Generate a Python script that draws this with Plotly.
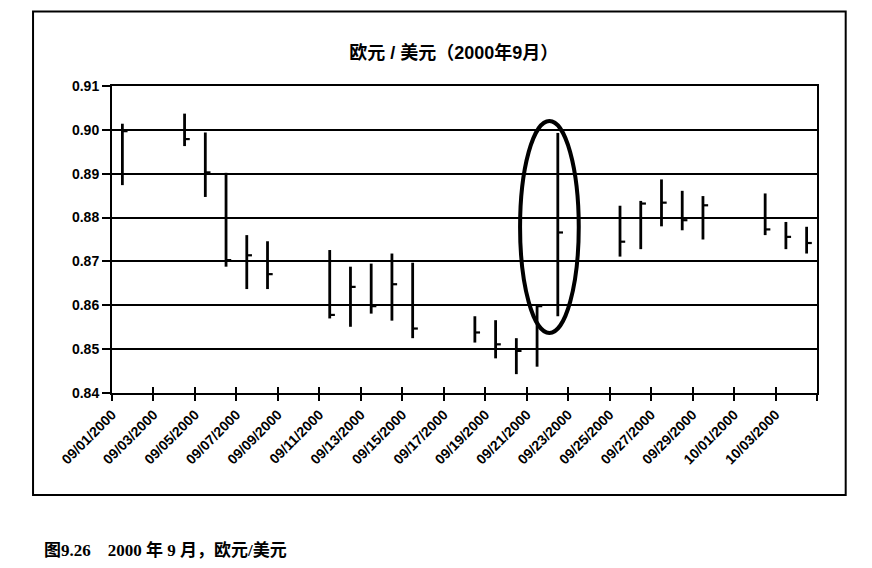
import plotly.graph_objects as go
import pandas as pd

# EUR/USD daily high / low / close, Sept 2000
dates = ['2000-09-01', '2000-09-04', '2000-09-05', '2000-09-06', '2000-09-07', '2000-09-08',
         '2000-09-11', '2000-09-12', '2000-09-13', '2000-09-14', '2000-09-15',
         '2000-09-18', '2000-09-19', '2000-09-20', '2000-09-21', '2000-09-22',
         '2000-09-25', '2000-09-26', '2000-09-27', '2000-09-28', '2000-09-29',
         '2000-10-02', '2000-10-03', '2000-10-04']
high = [0.9014, 0.9037, 0.8994, 0.8902, 0.8760, 0.8746,
        0.8726, 0.8688, 0.8695, 0.8718, 0.8697,
        0.8575, 0.8566, 0.8525, 0.8600, 0.8993,
        0.8827, 0.8838, 0.8887, 0.8861, 0.8849,
        0.8855, 0.8790, 0.8779]
low = [0.8874, 0.8963, 0.8847, 0.8688, 0.8637, 0.8637,
       0.8570, 0.8551, 0.8581, 0.8565, 0.8525,
       0.8515, 0.8479, 0.8443, 0.8460, 0.8575,
       0.8711, 0.8728, 0.8780, 0.8771, 0.8750,
       0.8760, 0.8728, 0.8718]
close = [0.8997, 0.8979, 0.8903, 0.8703, 0.8714, 0.8671,
         0.8578, 0.8642, 0.8598, 0.8648, 0.8547,
         0.8538, 0.8511, 0.8496, 0.8598, 0.8766,
         0.8745, 0.8832, 0.8834, 0.8794, 0.8828,
         0.8773, 0.8756, 0.8742]

tick_dates = pd.date_range('2000-09-01', '2000-10-05', freq='2D')
tick_text = [d.strftime('%m/%d/%Y') for d in tick_dates[:-1]] + ['']

y_ticks = [0.84, 0.85, 0.86, 0.87, 0.88, 0.89, 0.90, 0.91]

# bars sit in the middle of each day slot, close tick to the right
mid = pd.to_datetime(dates) + pd.Timedelta(hours=12)
tick_len = pd.Timedelta(hours=6)

bar_x, bar_y, cl_x, cl_y = [], [], [], []
for d, h, l, c in zip(mid, high, low, close):
    bar_x += [d, d, None]
    bar_y += [l, h, None]
    cl_x += [d, d + tick_len, None]
    cl_y += [c, c, None]

fig = go.Figure()
fig.add_trace(go.Scatter(x=bar_x, y=bar_y, mode='lines',
                         line=dict(color='black', width=2.8), hoverinfo='skip'))
fig.add_trace(go.Scatter(x=cl_x, y=cl_y, mode='lines',
                         line=dict(color='black', width=2.2), hoverinfo='skip'))

# dummy trace on the second x axis so the cross ticks show up
fig.add_trace(go.Scatter(x=[tick_dates[0]], y=[0.84], xaxis='x2', mode='markers',
                         marker=dict(opacity=0), hoverinfo='skip'))

axis_font = dict(family='Liberation Sans, Arial', size=14, color='black', weight='bold')

# the page body adds an 8px offset, so the figure is 8px smaller each way
fig.update_layout(
    width=864, height=560,
    paper_bgcolor='white', plot_bgcolor='white',
    showlegend=False,
    margin=dict(l=104, r=55, t=78, b=175),
    title=dict(text='欧元 / 美元（2000年9月）', x=0.516, xref='container', xanchor='center',
               y=1 - 45 / 560, yanchor='middle',
               font=dict(family='Liberation Sans, Noto Sans CJK SC', size=18, color='black',
                         weight='bold')),
    xaxis=dict(type='date', range=['2000-09-01', '2000-10-05'],
               tickmode='array', tickvals=tick_dates, ticktext=tick_text,
               tickangle=-45, tickfont=axis_font,
               ticks='outside', ticklen=6, tickwidth=1.5, tickcolor='black',
               showline=True, mirror=True, linecolor='black', linewidth=2,
               showgrid=False, zeroline=False),
    xaxis2=dict(type='date', range=['2000-09-01', '2000-10-05'], overlaying='x',
                matches='x', tickmode='array', tickvals=tick_dates, showticklabels=False,
                ticks='inside', ticklen=6, tickwidth=1.5, tickcolor='black',
                showline=False, showgrid=False, zeroline=False, side='bottom'),
    yaxis=dict(range=[0.84, 0.91], tickmode='array', tickvals=y_ticks,
               ticktext=['%.2f' % v for v in y_ticks], tickfont=axis_font,
               ticks='outside', ticklen=8, tickwidth=1.5, tickcolor='black',
               showline=True, mirror=True, linecolor='black', linewidth=2,
               showgrid=True, gridcolor='black', gridwidth=1.5, zeroline=False),
)

# outer chart frame
fig.add_shape(type='rect', xref='paper', yref='paper',
              x0=-0.112, x1=1.0407, y0=-0.332, y1=1.243,
              line=dict(color='black', width=2))

# ellipse around the 09/22 spike
fig.add_shape(type='circle', xref='x', yref='y',
              x0='2000-09-20 16:19', x1='2000-09-23 12:14', y0=0.8537, y1=0.9020,
              line=dict(color='black', width=4))

fig.add_annotation(text='图9.26　2000 年 9 月，欧元/美元', xref='paper', yref='paper',
                   x=-0.0997, y=-0.511, xanchor='left', yanchor='middle', showarrow=False,
                   font=dict(family='Liberation Serif, Noto Sans CJK SC', size=17,
                             color='black', weight='bold'))

fig.write_html("out.html")
